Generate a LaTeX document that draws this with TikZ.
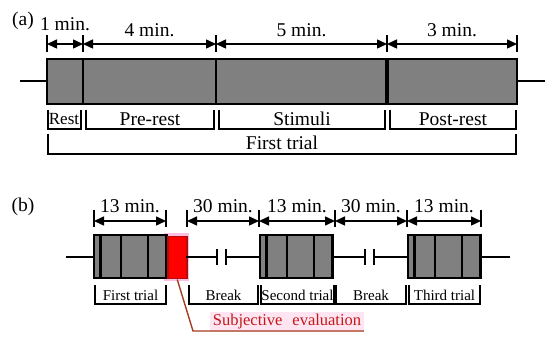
\documentclass[tikz,border=0pt]{standalone}
\usepackage{fontspec}
\setmainfont{Liberation Serif}
\usetikzlibrary{arrows.meta,positioning}
\definecolor{bargray}{RGB}{128,128,128}
\definecolor{evalred}{RGB}{255,0,0}
\definecolor{evaldark}{RGB}{175,15,10}
\definecolor{evalpink}{RGB}{255,228,242}
\definecolor{glowpink}{RGB}{255,190,225}
\definecolor{evaltext}{RGB}{195,25,25}
\definecolor{leadbrown}{RGB}{165,60,30}

\begin{document}
\begin{tikzpicture}[x=1pt, y=-1pt,
    bar/.style={draw, fill=bargray, line width=2.8pt},
    dim/.style={{Triangle[length=10pt,width=9pt]}-{Triangle[length=10pt,width=9pt]}, line width=1.5pt},
    tickline/.style={line width=1.4pt},
    brk/.style={line width=2.5pt},
    big/.style={font=\fontsize{19.5}{20}\selectfont, inner sep=0pt},
    small/.style={font=\fontsize{15}{16}\selectfont, inner sep=0pt}
  ]
  \useasboundingbox (0,0) rectangle (550,339);

  % 1. Panel (a): one trial
  \node[big] (taga) at (23,21) {(a)};
  \draw[tickline] (20,81) -- (47,81);
  \draw[tickline] (517,81) -- (545,81);
  \draw[bar] (47,59) rectangle (517,104);
  \draw[line width=2.5pt] (83,59) -- (83,104);
  \draw[line width=2.5pt] (216,59) -- (216,104);
  \draw[line width=4.5pt] (387,59) -- (387,104);

  % durations of (a)
  \foreach \n/\x in {0/47,1/83,2/216,3/387,4/517} {
    \coordinate (a\n) at (\x,44);
    \draw[tickline] (\x,35) -- (\x,52);
  }
  \draw[dim] (a0) -- (a1) node[midway, above=12pt, big] (m1) {1 min.};
  \draw[dim] (a1) -- (a2) node[midway, above=6pt, big] (m4) {4 min.};
  \draw[dim] (a2) -- (a3) node[midway, above=6pt, big] (m5) {5 min.};
  \draw[dim] (a3) -- (a4) node[midway, above=6pt, big] (m3) {3 min.};

  % 2. Brackets of (a)
  \draw[brk] (48,110) |- (81,129) -- (81,110);
  \node[font=\fontsize{17}{18}\selectfont, inner sep=0pt] (lrest) at (64,119) {Rest};
  \foreach \a/\b/\n/\t in {86/214/pre/Pre-rest, 219/385/stim/Stimuli, 390/516/post/Post-rest} {
    \draw[brk] (\a,110) |- (\b,129) -- (\b,110);
    \node[big] (l\n) at ({(\a+\b)/2},119) {\t};
  }
  \draw[brk] (48,134) |- (516,154) -- (516,134);
  \node[big] (ltrial) at (282,143) {First trial};

  % 3. Panel (b): three trials
  \node[big] (tagb) at (23,207) {(b)};
  \fill[glowpink] (164,233) rectangle (189,281);
  \foreach \s in {94,260,408} {
    \draw[bar] (\s,235) rectangle +(72.5,43);
    \foreach \d in {6.5,27,54}
      \draw[line width=2.4pt] (\s+\d,235) -- (\s+\d,278);
  }
  \node[draw=evaldark, fill=evalred, line width=1.5pt, minimum width=19pt,
        minimum height=42pt, inner sep=0pt, anchor=north west] (evalbox) at (167,236) {};

  % time line with breaks
  \draw[tickline] (66,257) -- (94,257);
  \draw[tickline] (186,257) -- (217,257) (226,257) -- (260,257);
  \draw[tickline] (333,257) -- (365,257) (374,257) -- (408,257);
  \draw[tickline] (481,257) -- (510,257);
  \foreach \x in {217,226,365,374}
    \draw[line width=1.8pt] (\x,249) -- (\x,265);

  % durations of (b)
  \foreach \n/\x in {0/94,1/166,2/187,3/259,4/335,5/407,6/481} {
    \coordinate (b\n) at (\x,221);
    \draw[tickline] (\x,210) -- (\x,227);
  }
  \draw[dim] (b0) -- (b1) node[midway, above=7pt, big] (t1) {13 min.};
  \draw[dim] (b2) -- (b3) node[midway, above=7pt, big] (p1) {30 min.};
  \draw[dim] (b3) -- (b4) node[midway, above=7pt, big] (t2) {13 min.};
  \draw[dim] (b4) -- (b5) node[midway, above=7pt, big] (p2) {30 min.};
  \draw[dim] (b5) -- (b6) node[midway, above=7pt, big] (t3) {13 min.};

  % brackets of (b)
  \foreach \a/\b/\n/\t in {95/166/bfirst/First trial, 189/258/bbreaka/Break,
      261/334/bsecond/Second trial, 336/406/bbreakb/Break, 409/480/bthird/Third trial} {
    \draw[brk] (\a,285) |- (\b,304) -- (\b,285);
    \node[small] (\n) at ({(\a+\b)/2},295) {\t};
  }

  % 4. Subjective evaluation call-out
  \node[font=\fontsize{16.5}{18}\selectfont, text=evaltext, fill=evalpink, inner sep=2.5pt]
    (subj) at (287,322) {Subjective\hspace{0.6em}evaluation};
  \coordinate (bend) at (193,331);
  \draw[leadbrown, line width=1.4pt] (evalbox.south) -- (bend) -- (bend -| subj.east);
\end{tikzpicture}
\end{document}
